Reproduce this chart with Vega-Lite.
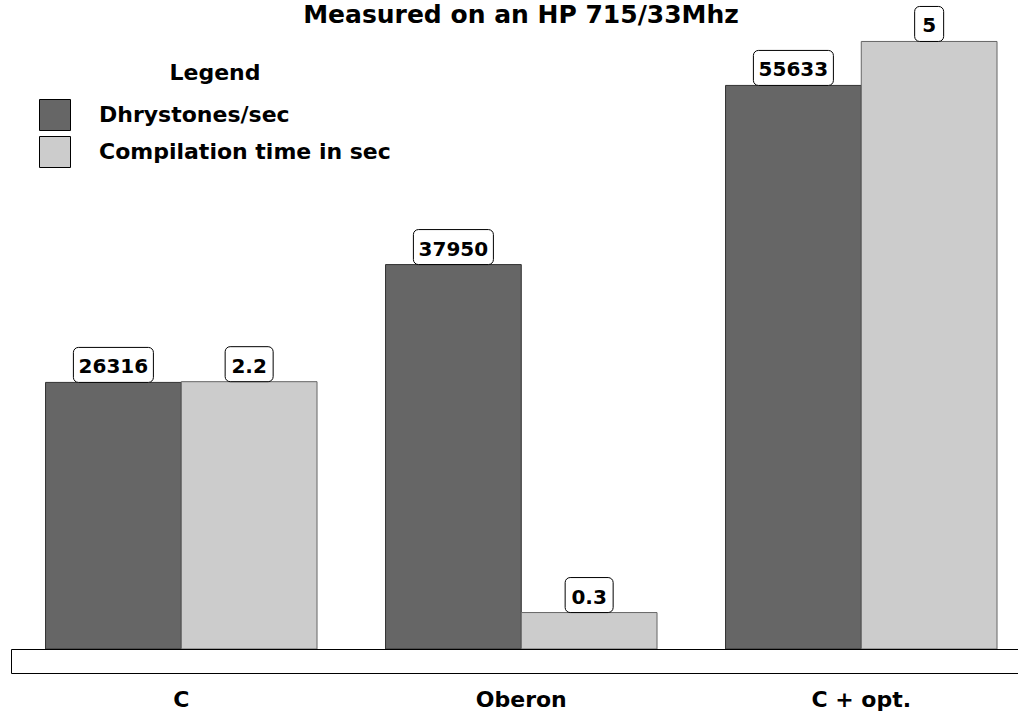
{
  "$schema": "https://vega.github.io/schema/vega-lite/v6.json",
  "padding": {"left": 10, "top": 2, "right": 0, "bottom": 0},
  "background": "white",
  "title": {"text": "Measured on an HP 715/33Mhz", "font": "DejaVu Sans", "fontSize": 25, "fontWeight": "bold", "color": "black", "anchor": "middle", "dx": 6, "offset": -22},
  "config": {"view": {"stroke": null}, "font": "DejaVu Sans"},
  "datasets": {
    "bench": [
      {"language": "C", "measure": "Dhrystones/sec", "value": 26316},
      {"language": "C", "measure": "Compilation time in sec", "value": 2.2},
      {"language": "Oberon", "measure": "Dhrystones/sec", "value": 37950},
      {"language": "Oberon", "measure": "Compilation time in sec", "value": 0.3},
      {"language": "C + opt.", "measure": "Dhrystones/sec", "value": 55633},
      {"language": "C + opt.", "measure": "Compilation time in sec", "value": 5}
    ]
  },
  "spacing": 0,
  "bounds": "flush",
  "vconcat": [
    {
      "width": 1008,
      "height": 609,
      "data": {"name": "bench"},
      "encoding": {
        "x": {"field": "language", "type": "nominal", "scale": {"type": "band", "domain": ["C", "Oberon", "C + opt."], "paddingInner": 0.2015, "paddingOuter": 0.0831, "align": 0.611}, "axis": null},
        "xOffset": {"field": "measure", "type": "nominal", "scale": {"domain": ["Dhrystones/sec", "Compilation time in sec"], "paddingInner": 0, "paddingOuter": 0}}
      },
      "layer": [
        {
          "transform": [{"filter": "datum.measure === 'Dhrystones/sec'"}],
          "encoding": {"y": {"field": "value", "type": "quantitative", "scale": {"domain": [0, 60118], "nice": false, "zero": true}, "axis": null}},
          "layer": [
            {
              "mark": {"type": "bar", "stroke": "#333333", "strokeWidth": 1},
              "encoding": {
                "color": {"field": "measure", "type": "nominal", "scale": {"domain": ["Dhrystones/sec", "Compilation time in sec"], "range": ["#666666", "#cccccc"]},
                  "legend": {"title": "Legend", "orient": "none", "legendX": 28, "legendY": 23, "direction": "vertical", "symbolType": "square", "symbolSize": 961, "symbolStrokeColor": "black", "symbolStrokeWidth": 1, "symbolOpacity": 1, "labelFont": "DejaVu Sans", "labelFontSize": 22, "labelFontWeight": "bold", "labelColor": "black", "labelOffset": 28, "labelLimit": 500, "titleFont": "DejaVu Sans", "titleFontSize": 22, "titleFontWeight": "bold", "titleColor": "black", "titleAnchor": "middle", "titlePadding": 14, "rowPadding": 1, "padding": 0}}
              }
            },
            {
              "mark": {"type": "bar", "fill": "white", "stroke": "black", "strokeWidth": 1, "width": 80, "cornerRadius": 5, "y2Offset": -35},
              "encoding": {"y2": {"field": "value"}}
            },
            {
              "mark": {"type": "text", "font": "DejaVu Sans", "fontWeight": "bold", "fontSize": 20, "baseline": "alphabetic", "dy": -9, "color": "black"},
              "encoding": {"text": {"field": "value", "type": "nominal"}}
            }
          ]
        },
        {
          "transform": [{"filter": "datum.measure === 'Compilation time in sec'"}],
          "encoding": {"y": {"field": "value", "type": "quantitative", "scale": {"domain": [0, 5.012], "nice": false, "zero": true}, "axis": null}},
          "layer": [
            {
              "mark": {"type": "bar", "stroke": "#666666", "strokeWidth": 1},
              "encoding": {
                "color": {"field": "measure", "type": "nominal", "scale": {"domain": ["Dhrystones/sec", "Compilation time in sec"], "range": ["#666666", "#cccccc"]},
                  "legend": {"title": "Legend", "orient": "none", "legendX": 28, "legendY": 23, "direction": "vertical", "symbolType": "square", "symbolSize": 961, "symbolStrokeColor": "black", "symbolStrokeWidth": 1, "symbolOpacity": 1, "labelFont": "DejaVu Sans", "labelFontSize": 22, "labelFontWeight": "bold", "labelColor": "black", "labelOffset": 28, "labelLimit": 500, "titleFont": "DejaVu Sans", "titleFontSize": 22, "titleFontWeight": "bold", "titleColor": "black", "titleAnchor": "middle", "titlePadding": 14, "rowPadding": 1, "padding": 0}}
              }
            },
            {
              "mark": {"type": "bar", "fill": "white", "stroke": "black", "strokeWidth": 1, "cornerRadius": 5, "y2Offset": -35},
              "encoding": {
                "y2": {"field": "value"},
                "size": {"field": "value", "type": "quantitative", "scale": {"type": "threshold", "domain": [3], "range": [48, 29]}, "legend": null}
              }
            },
            {
              "mark": {"type": "text", "font": "DejaVu Sans", "fontWeight": "bold", "fontSize": 20, "baseline": "alphabetic", "dy": -9, "color": "black"},
              "encoding": {"text": {"field": "value", "type": "nominal"}}
            }
          ]
        }
      ],
      "resolve": {"scale": {"y": "independent"}}
    },
    {
      "width": 1008,
      "height": 24,
      "data": {"name": "bench"},
      "view": {"stroke": "black", "strokeWidth": 1, "fill": "white"},
      "mark": {"type": "point", "opacity": 0},
      "encoding": {
        "x": {"field": "language", "type": "nominal", "scale": {"type": "band", "domain": ["C", "Oberon", "C + opt."], "paddingInner": 0.2015, "paddingOuter": 0.0831, "align": 0.611},
          "axis": {"title": null, "domain": false, "ticks": false, "tickSize": 0, "labelPadding": 16, "labelAngle": 0, "labelFont": "DejaVu Sans", "labelFontSize": 22, "labelFontWeight": "bold", "labelColor": "black"}}
      }
    }
  ]
}
